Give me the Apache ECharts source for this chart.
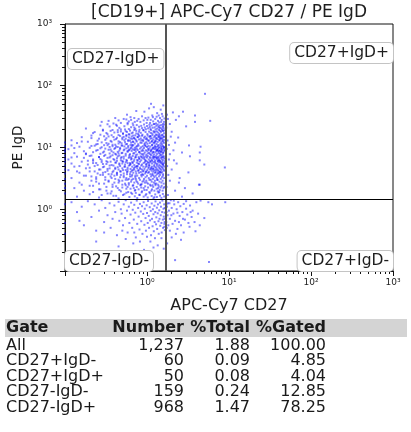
<!DOCTYPE html>
<html><head><meta charset="utf-8">
<script src="https://cdn.jsdelivr.net/npm/echarts@6.0.0/dist/echarts.min.js"></script>
<style>html,body{margin:0;padding:0;background:#fff}#c{width:411px;height:432px}</style>
</head><body><div id="c"></div>
<script>
const titleText = '[CD19+] APC-Cy7 CD27 / PE IgD';
const xName = 'APC-Cy7 CD27';
const yName = 'PE IgD';
const axisMin = 0.1, axisMax = 1000;
const xLabelValues = [1, 10, 100, 1000];
const yLabelValues = [1, 10, 100, 1000];
const majorTicks = [0.1, 1, 10, 100, 1000];
const minorTicks = [0.2,0.3,0.4,0.5,0.6,0.7,0.8,0.9,2,3,4,5,6,7,8,9,20,30,40,50,60,70,80,90,200,300,400,500,600,700,800,900];
const gateX = 1.69, gateY = 1.45;
const quadNames = ['CD27-IgD+', 'CD27+IgD+', 'CD27-IgD-', 'CD27+IgD-'];
const tableHeader = ['Gate', 'Number', '%Total', '%Gated'];
const gateNames = ['All', 'CD27+IgD-', 'CD27+IgD+', 'CD27-IgD-', 'CD27-IgD+'];
const numbers = ['1,237', '60', '50', '159', '968'];
const pctTotal = ['1.88', '0.09', '0.08', '0.24', '1.47'];
const pctGated = ['100.00', '4.85', '4.04', '12.85', '78.25'];

// CD27-IgD+ (upper-left)
const ulPoints = [
[1.21,45],[1.47,41],[0.93,38],[1.58,48],[1.33,36],[1.06,43],[0.74,39],[1.52,35],[1.12,51],[0.57,34],
[0.41,30],[0.56,28.5],[0.63,31],[0.71,26],[0.79,29],[0.87,32],[0.91,27.5],[0.99,25],[1.04,30.5],[1.11,28],[1.16,33],[1.19,26.5],[1.26,29],[1.31,31.5],[1.36,27],[1.41,25.5],[1.44,30],[1.51,28],[1.55,32],[1.61,26],[1.63,29.5],[0.34,27],[0.48,25],[0.67,24.5],[0.83,26],[0.96,30],[1.09,25],[1.18,31],[1.29,24.5],[1.39,33],[1.49,26],[1.57,24],[0.6,26.5],[1.01,28],[1.23,24],
[0.18,20.3],[0.22,17.1],[0.27,22.6],[0.29,18.8],[0.33,16.4],[0.35,21.9],[0.38,19.2],[0.42,23.4],[0.44,17.7],[0.46,20.8],[0.51,16.9],[0.53,22.1],[0.55,18.3],[0.58,23.8],[0.6,19.9],[0.61,16.2],[0.64,21.3],[0.67,17.5],[0.68,22.9],[0.72,20.1],[0.74,18.6],[0.75,23.1],[0.78,16.7],[0.8,21.7],[0.81,19.4],[0.84,17.3],[0.85,22.4],[0.87,20.6],[0.88,16.1],[0.91,18.9],[0.92,23.6],[0.94,21.1],[0.96,17.8],[0.97,19.7],[1.0,22.2],[1.01,16.5],[1.03,20.4],[1.06,18.1],[1.07,23.3],[1.08,21.5],[1.11,17.2],[1.12,19.1],[1.14,22.8],[1.16,16.8],[1.17,20.9],[1.2,18.4],[1.21,23.9],[1.22,17.6],[1.24,21.2],[1.27,19.6],[1.28,16.3],[1.3,22.5],[1.32,18.2],[1.33,20.2],[1.35,23.5],[1.37,17.4],[1.38,21.8],[1.4,19.3],[1.42,16.6],[1.43,22.7],[1.45,18.7],[1.46,20.7],[1.48,17.9],[1.5,23.2],[1.52,19.8],[1.53,16.1],[1.55,21.4],[1.57,18.5],[1.58,22.3],[1.6,20.5],[1.61,17.0],[1.63,19.0],[1.64,23.7],[0.48,19.6],[0.7,21.0],[0.9,19.2],[1.1,20.0],[1.26,18.0],[1.41,21.0],[1.54,18.9],
[0.12,13.1],[0.14,11.8],[0.16,14.7],[0.19,12.4],[0.21,15.6],[0.24,11.2],[0.26,13.9],[0.28,12.1],[0.3,15.2],[0.32,14.1],[0.34,11.5],[0.36,12.8],[0.37,15.8],[0.4,13.4],[0.41,11.1],[0.43,14.4],[0.45,12.6],[0.47,15.4],[0.49,11.7],[0.5,13.6],[0.52,14.9],[0.54,12.2],[0.56,15.9],[0.57,11.4],[0.59,13.2],[0.6,14.6],[0.62,12.9],[0.63,11.0],[0.65,15.1],[0.66,13.8],[0.68,12.3],[0.69,14.3],[0.71,11.6],[0.72,15.7],[0.74,13.0],[0.75,12.5],[0.77,14.8],[0.78,11.3],[0.8,13.5],[0.81,15.3],[0.83,12.0],[0.84,14.0],[0.86,11.9],[0.87,15.5],[0.89,13.3],[0.9,12.7],[0.92,14.5],[0.93,11.2],[0.95,15.0],[0.96,13.7],[0.98,12.2],[0.99,14.2],[1.01,11.5],[1.02,15.6],[1.04,13.1],[1.05,12.8],[1.07,14.9],[1.08,11.8],[1.1,13.9],[1.11,15.2],[1.13,12.4],[1.14,14.1],[1.16,11.1],[1.17,15.8],[1.19,13.4],[1.2,12.0],[1.22,14.6],[1.23,11.7],[1.25,15.4],[1.26,13.0],[1.28,12.6],[1.29,14.4],[1.31,11.4],[1.32,15.9],[1.34,13.6],[1.35,12.3],[1.37,14.7],[1.38,11.0],[1.4,15.1],[1.41,13.2],[1.43,12.9],[1.44,14.0],[1.46,11.6],[1.47,15.5],[1.49,13.8],[1.5,12.1],[1.52,14.3],[1.53,11.3],[1.55,15.7],[1.56,13.5],[1.58,12.5],[1.59,14.8],[1.61,11.9],[1.62,15.0],[1.64,13.3],[0.55,13.9],[0.7,14.1],[0.85,13.0],[1.0,13.5],[1.15,12.7],[1.3,13.9],[1.45,14.5],[0.64,12.0],[0.94,11.7],[1.24,12.3],[1.54,12.8],[0.79,15.9],[1.09,15.3],[1.39,15.8],
[0.11,9.4],[0.13,8.1],[0.15,10.3],[0.17,8.7],[0.18,7.8],[0.2,9.9],[0.22,8.4],[0.23,10.7],[0.25,9.1],[0.27,7.9],[0.28,10.1],[0.3,8.6],[0.31,9.6],[0.33,10.9],[0.35,8.0],[0.36,9.3],[0.38,10.5],[0.39,8.3],[0.41,9.8],[0.42,7.7],[0.44,10.2],[0.46,8.9],[0.47,9.5],[0.49,10.8],[0.5,8.2],[0.52,9.0],[0.53,10.4],[0.55,7.9],[0.56,9.7],[0.58,8.5],[0.59,10.6],[0.61,9.2],[0.62,7.8],[0.64,10.0],[0.65,8.8],[0.67,9.4],[0.68,10.9],[0.7,8.1],[0.71,9.9],[0.73,8.6],[0.74,10.3],[0.76,7.7],[0.77,9.1],[0.79,10.7],[0.8,8.4],[0.82,9.6],[0.83,8.0],[0.85,10.1],[0.86,8.8],[0.88,9.3],[0.89,10.5],[0.91,7.9],[0.92,9.8],[0.94,8.3],[0.95,10.8],[0.97,9.0],[0.98,7.6],[1.0,10.2],[1.01,8.7],[1.03,9.5],[1.04,10.6],[1.06,8.2],[1.07,9.7],[1.09,7.8],[1.1,10.4],[1.12,8.9],[1.13,9.2],[1.15,10.9],[1.16,8.0],[1.18,9.9],[1.19,8.5],[1.21,10.0],[1.22,7.7],[1.24,9.4],[1.25,10.7],[1.27,8.3],[1.28,9.6],[1.3,8.8],[1.31,10.3],[1.33,7.9],[1.34,9.1],[1.36,10.5],[1.37,8.6],[1.39,9.8],[1.4,8.1],[1.42,10.1],[1.43,9.0],[1.45,7.8],[1.46,10.8],[1.48,8.4],[1.49,9.5],[1.51,10.4],[1.52,8.9],[1.54,9.3],[1.55,7.7],[1.57,10.6],[1.58,8.2],[1.6,9.7],[1.61,10.2],[1.63,8.7],[1.64,9.1],[0.45,8.0],[0.6,9.0],[0.75,9.6],[0.9,8.9],[1.05,9.1],[1.2,8.4],[1.35,9.4],[1.5,9.9],[0.66,10.4],[0.81,8.5],[0.96,10.5],[1.11,8.6],[1.26,10.2],[1.41,8.8],[1.56,8.3],[0.72,9.3],[0.87,7.8],[1.02,8.0],[1.17,9.5],[1.32,9.0],[1.47,8.6],[1.62,10.0],
[0.11,6.4],[0.12,5.5],[0.14,7.1],[0.16,5.9],[0.17,6.8],[0.19,5.3],[0.21,7.4],[0.22,6.1],[0.24,5.6],[0.26,7.0],[0.27,6.5],[0.29,5.4],[0.3,7.3],[0.32,6.0],[0.33,5.8],[0.35,6.9],[0.37,5.2],[0.38,7.5],[0.4,6.3],[0.41,5.7],[0.43,6.7],[0.44,7.2],[0.46,5.5],[0.48,6.2],[0.49,7.0],[0.51,5.9],[0.52,6.6],[0.54,5.3],[0.55,7.4],[0.57,6.1],[0.58,5.6],[0.6,6.8],[0.61,7.1],[0.63,5.4],[0.64,6.4],[0.66,5.8],[0.67,7.3],[0.69,6.0],[0.7,5.2],[0.72,6.9],[0.73,7.5],[0.75,5.7],[0.76,6.3],[0.78,5.5],[0.79,7.0],[0.81,6.6],[0.82,5.9],[0.84,7.2],[0.85,6.2],[0.87,5.3],[0.88,6.7],[0.9,7.4],[0.91,5.6],[0.93,6.5],[0.94,5.8],[0.96,7.1],[0.97,6.1],[0.99,5.4],[1.0,6.9],[1.02,7.3],[1.03,5.7],[1.05,6.4],[1.06,5.2],[1.08,7.0],[1.09,6.0],[1.11,5.9],[1.12,7.5],[1.14,6.3],[1.15,5.5],[1.17,6.8],[1.18,7.2],[1.2,5.8],[1.21,6.6],[1.23,5.3],[1.24,7.1],[1.26,6.2],[1.27,5.6],[1.29,6.9],[1.3,7.4],[1.32,5.4],[1.33,6.5],[1.35,6.0],[1.36,7.0],[1.38,5.7],[1.39,6.7],[1.41,5.2],[1.42,7.3],[1.44,6.1],[1.45,5.9],[1.47,6.8],[1.48,7.5],[1.5,5.5],[1.51,6.4],[1.53,5.8],[1.54,7.1],[1.56,6.2],[1.57,5.3],[1.59,6.9],[1.6,7.2],[1.62,5.6],[1.63,6.6],[1.65,6.0],[0.5,6.0],[0.65,6.6],[0.8,5.4],[0.95,6.2],[1.1,6.7],[1.25,5.9],[1.4,6.3],[1.55,5.4],[0.7,6.4],[0.86,7.0],[1.01,5.9],[1.16,6.1],[1.31,6.8],[1.46,5.7],[0.92,6.9],[1.07,5.6],[1.22,7.0],[1.37,6.1],[1.52,6.9],[0.62,5.6],[0.77,6.1],[0.97,5.3],
[0.11,4.3],[0.13,4.9],[0.15,3.9],[0.18,4.6],[0.2,4.1],[0.23,5.0],[0.25,3.8],[0.27,4.4],[0.29,4.8],[0.31,4.0],[0.33,4.5],[0.35,5.1],[0.37,3.7],[0.39,4.2],[0.41,4.7],[0.43,3.9],[0.45,4.4],[0.47,5.0],[0.48,4.1],[0.5,4.6],[0.52,3.8],[0.53,4.9],[0.55,4.3],[0.57,4.0],[0.58,4.7],[0.6,5.1],[0.62,3.7],[0.63,4.5],[0.65,4.2],[0.66,4.9],[0.68,3.9],[0.7,4.4],[0.71,4.8],[0.73,4.1],[0.74,3.8],[0.76,4.6],[0.77,5.0],[0.79,4.3],[0.8,3.9],[0.82,4.7],[0.84,4.0],[0.85,5.1],[0.87,4.4],[0.88,3.7],[0.9,4.9],[0.91,4.2],[0.93,4.5],[0.95,3.8],[0.96,4.8],[0.98,4.1],[0.99,5.0],[1.01,4.3],[1.03,3.9],[1.04,4.6],[1.06,4.0],[1.07,5.1],[1.09,4.4],[1.1,3.7],[1.12,4.7],[1.14,4.2],[1.15,4.9],[1.17,3.8],[1.18,4.5],[1.2,4.1],[1.22,5.0],[1.23,4.3],[1.25,3.9],[1.27,4.8],[1.28,4.0],[1.3,4.6],[1.32,5.1],[1.33,3.7],[1.35,4.4],[1.37,4.2],[1.38,4.9],[1.4,3.8],[1.42,4.7],[1.43,4.1],[1.45,4.5],[1.47,5.0],[1.48,3.9],[1.5,4.3],[1.52,4.8],[1.53,4.0],[1.55,4.6],[1.57,3.7],[1.58,5.1],[1.6,4.4],[1.62,4.2],[1.63,4.9],[0.67,4.3],[0.83,4.5],[0.97,4.0],[1.13,4.5],[1.29,4.3],[1.44,4.0],[0.58,4.1],[0.74,4.9],[0.89,4.1],[1.05,4.8],[1.2,4.6],[1.36,3.9],
[0.12,3.2],[0.15,2.7],[0.18,3.5],[0.21,2.9],[0.24,3.3],[0.26,2.6],[0.29,3.6],[0.31,3.0],[0.34,2.8],[0.36,3.4],[0.38,2.5],[0.41,3.1],[0.43,3.6],[0.45,2.7],[0.47,3.3],[0.5,2.9],[0.52,3.5],[0.54,2.6],[0.56,3.2],[0.58,3.0],[0.6,2.5],[0.62,3.4],[0.64,2.8],[0.66,3.6],[0.68,3.1],[0.7,2.7],[0.72,3.3],[0.74,2.9],[0.76,3.5],[0.78,2.6],[0.8,3.2],[0.82,3.0],[0.84,2.5],[0.86,3.4],[0.88,2.8],[0.9,3.6],[0.92,3.1],[0.94,2.7],[0.96,3.3],[0.98,2.9],[1.0,3.5],[1.03,2.6],[1.05,3.2],[1.07,3.0],[1.09,2.5],[1.12,3.4],[1.14,2.8],[1.16,3.6],[1.18,3.1],[1.21,2.7],[1.23,3.3],[1.25,2.9],[1.28,3.5],[1.3,2.6],[1.32,3.2],[1.35,3.0],[1.37,2.5],[1.4,3.4],[1.42,2.8],[1.45,3.6],[1.47,3.1],[1.5,2.7],[1.52,3.3],[1.55,2.9],[1.57,3.5],[1.6,2.6],[1.62,3.2],[0.73,3.1],[0.91,2.9],[1.11,3.0],[1.33,3.0],[0.55,3.0],[0.99,2.7],[1.2,3.5],[0.65,3.0],[0.85,3.6],[1.26,2.6],
[0.13,2.2],[0.17,2.0],[0.22,2.4],[0.27,2.1],[0.32,2.3],[0.37,1.95],[0.42,2.35],[0.46,2.05],[0.5,2.25],[0.55,2.45],[0.59,1.9],[0.63,2.15],[0.67,2.4],[0.71,2.0],[0.75,2.3],[0.79,2.1],[0.83,2.45],[0.87,1.95],[0.91,2.2],[0.95,2.35],[0.99,2.05],[1.03,2.25],[1.07,1.9],[1.11,2.4],[1.15,2.1],[1.19,2.3],[1.23,2.0],[1.27,2.45],[1.31,2.15],[1.35,1.95],[1.39,2.35],[1.43,2.05],[1.47,2.25],[1.51,2.4],[1.55,2.0],[1.59,2.2],[1.63,2.3],[0.69,2.2],[0.93,2.05],[1.17,2.45],[1.41,1.9],[0.58,2.3],[0.85,2.25],[1.13,2.0],[1.37,2.2],
[0.14,1.6],[0.2,1.75],[0.26,1.55],[0.33,1.8],[0.39,1.65],[0.45,1.5],[0.51,1.7],[0.56,1.85],[0.61,1.58],[0.66,1.78],[0.71,1.62],[0.76,1.52],[0.81,1.72],[0.86,1.88],[0.91,1.6],[0.96,1.68],[1.02,1.55],[1.08,1.82],[1.14,1.64],[1.2,1.5],[1.26,1.74],[1.32,1.58],[1.38,1.86],[1.44,1.66],[1.5,1.53],[1.56,1.77],[1.62,1.61],[0.73,1.84],[0.98,1.76],[1.23,1.57],
[0.28,26],[0.39,24.5],[0.45,27.5],[0.52,29],[0.58,25],[0.64,28],[0.7,30],[0.76,27],[0.43,22.5],[0.33,23.8],
[0.21,14.2],[0.23,17.8],[0.25,12.9],[0.27,16.1],[0.29,19.4],[0.31,13.3],[0.32,17.2],[0.34,15.1],[0.36,18.6],[0.37,12.4],[0.39,14.8],[0.4,17.5],[0.42,13.7],[0.44,19.1],[0.45,15.9],[0.47,12.2],[0.48,18.2],[0.5,14.4],[0.51,16.7],[0.53,13.1],[0.54,19.6],[0.56,15.3],[0.57,17.9],[0.59,12.7],[0.6,16.4],[0.62,18.8],[0.63,14.0],[0.65,17.0],[0.67,12.5],[0.68,15.6],[0.7,19.2],[0.72,13.6],[0.74,16.9],[0.77,14.7],[0.8,18.1],
[0.2,7.3],[0.21,10.6],[0.22,6.4],[0.24,8.9],[0.25,11.4],[0.26,7.0],[0.27,9.7],[0.28,6.2],[0.29,8.3],[0.3,10.9],[0.31,7.6],[0.32,11.8],[0.33,6.8],[0.34,9.2],[0.35,10.2],[0.36,7.2],[0.37,8.7],[0.38,11.1],[0.39,6.5],[0.4,9.5],[0.41,7.9],[0.42,10.4],[0.43,6.1],[0.44,8.5],[0.45,11.6],[0.46,7.4],[0.47,9.9],[0.48,6.7],[0.49,8.1],[0.5,10.7],[0.52,7.1],[0.53,9.3],[0.55,11.3],[0.56,6.3],[0.58,8.8],[0.59,10.0],[0.61,7.5],[0.63,9.6],[0.64,6.9],[0.66,11.0],[0.68,8.0],[0.7,9.1],[0.73,7.0],[0.76,10.6],[0.8,6.6],
[0.2,4.7],[0.21,3.4],[0.22,5.6],[0.23,4.1],[0.24,3.1],[0.25,5.2],[0.26,4.4],[0.27,3.6],[0.28,5.8],[0.29,3.9],[0.3,4.9],[0.31,3.3],[0.32,5.4],[0.33,4.2],[0.34,3.7],[0.35,4.6],[0.36,5.9],[0.37,3.2],[0.38,4.0],[0.39,5.1],[0.4,3.5],[0.41,4.5],[0.42,5.7],[0.43,3.8],[0.44,4.8],[0.45,3.0],[0.46,5.3],[0.47,4.1],[0.48,3.6],[0.5,5.5],[0.51,4.3],[0.52,3.3],[0.54,4.9],[0.55,5.8],[0.57,3.7],[0.58,4.4],[0.6,3.1],[0.62,5.2],[0.63,4.0],[0.65,3.4],[0.67,5.6],[0.69,4.6],[0.72,3.5],[0.75,5.0],[0.78,4.2],
[0.2,2.4],[0.22,1.9],[0.24,2.8],[0.26,2.1],[0.28,1.7],[0.3,2.6],[0.32,2.0],[0.34,2.9],[0.36,1.8],[0.38,2.3],[0.4,2.7],[0.42,1.65],[0.44,2.2],[0.46,2.85],[0.48,1.95],[0.5,2.5],[0.53,1.75],[0.56,2.15],[0.6,2.65],[0.64,1.85],[0.68,2.45],[0.72,2.05],[0.76,2.75],[0.81,1.7],[0.86,2.55],
[0.12,6.9],[0.13,9.8],[0.15,5.0],[0.16,12.5],[0.17,3.5],[0.18,8.0],[0.19,6.1],[0.14,4.1],[0.12,10.8],[0.16,2.5],
[0.1,12],[0.1,10.5],[0.1,9.2],[0.1,8.5],[0.1,7.4],[0.1,6.6],[0.1,5.9],[0.1,5.1],[0.1,4.4],[0.1,3.8],[0.1,3.1],[0.1,2.6],[0.1,2.2],[0.1,1.8]
];
// CD27+IgD+ (upper-right)
const urPoints = [
[5.1,74],[2.07,37],[2.45,32],[2.75,38],[3.85,33],[5.9,27],[3.85,26],[2.0,18],[3.25,10.8],[2.67,8.3],[4.4,8.3],[2.13,6.2],[3.34,7.2],[8.9,4.75],[3.2,3.95],[2.45,2.7],[4.4,2.5],[2.67,1.6],[4.5,10.3],[4.4,6.2],[5.0,5.3],[4.3,2.5],[1.85,6.4],
[1.75,34],[1.8,29],[1.9,24],[1.72,21],[1.95,15],[1.78,13],[2.2,12],[1.85,11],[1.74,9.5],[2.1,9],[1.9,7.8],[2.3,5.5],[1.76,5],[2.0,4.4],[1.82,3.6],[2.5,3.2],[1.9,2.9],[1.73,2.3],[2.2,2.0],[1.8,1.7],[2.9,2.2],[3.6,1.8],[2.4,14.5],[3.0,22],[2.25,28]
];
// CD27-IgD- (lower-left)
const llPoints = [
[0.12,1.3],[0.14,0.9],[0.16,1.1],[0.17,0.55],[0.19,1.35],[0.21,0.75],[0.23,1.2],[0.24,0.45],[0.26,0.95],[0.28,1.4],[0.3,0.62],[0.31,1.05],[0.33,0.8],[0.35,1.25],[0.36,0.5],[0.38,0.7],[0.4,1.15],[0.41,0.9],[0.43,0.38],[0.45,1.32],[0.46,0.65],[0.48,1.0],[0.49,0.85],[0.51,0.55],[0.52,1.2],[0.54,0.72],[0.55,1.4],[0.57,0.95],[0.58,0.42],[0.6,1.1],[0.61,0.6],[0.63,0.82],[0.64,1.28],[0.66,0.5],[0.67,0.98],[0.69,0.68],[0.7,1.18],[0.72,0.88],[0.73,0.35],[0.75,1.38],[0.76,0.58],[0.78,1.05],[0.79,0.76],[0.81,0.47],[0.82,1.22],[0.84,0.92],[0.85,0.64],[0.87,1.12],[0.88,0.4],[0.9,0.84],[0.91,1.3],[0.93,0.56],[0.94,1.02],[0.96,0.72],[0.97,0.45],[0.99,1.16],[1.0,0.87],[1.02,0.6],[1.03,1.36],[1.05,0.78],[1.06,0.5],[1.08,1.08],[1.09,0.66],[1.11,0.94],[1.12,0.38],[1.14,1.24],[1.15,0.7],[1.17,0.53],[1.18,1.0],[1.2,0.83],[1.21,0.44],[1.23,1.14],[1.24,0.62],[1.26,0.9],[1.27,1.34],[1.29,0.57],[1.3,0.74],[1.32,1.06],[1.33,0.48],[1.35,0.86],[1.36,1.2],[1.38,0.64],[1.39,0.4],[1.41,0.96],[1.42,0.7],[1.44,1.28],[1.45,0.54],[1.47,0.8],[1.48,1.1],[1.5,0.6],[1.51,0.42],[1.53,0.9],[1.54,1.38],[1.56,0.68],[1.57,0.5],[1.59,1.02],[1.6,0.76],[1.62,1.2],[1.63,0.58],[1.64,0.88],[1.65,0.46],[1.64,0.7],[1.65,1.05],[1.63,0.52],[1.64,0.62],[1.6,0.23],
[0.24,0.3],[0.45,0.25],[0.68,0.28],[0.92,0.22],[1.1,0.3],[1.35,0.26],[0.55,0.33],[0.82,0.3],[1.2,0.24],[0.15,0.65],[0.3,0.42],[0.5,0.45],[0.7,0.42],[1.0,0.36],[1.25,0.34],[1.5,0.34],
[0.1,1.2],[0.1,0.85],[0.1,0.6],[0.1,0.4]
];
// CD27+IgD- (lower-right)
const lrPoints = [
[1.72,1.35],[1.75,1.1],[1.78,0.8],[1.72,0.62],[1.74,0.5],[1.8,1.25],[1.85,0.95],[1.9,0.7],[1.95,1.4],[2.0,1.05],[2.05,0.58],[2.1,0.85],[2.15,1.2],[2.2,0.65],[2.3,1.0],[2.35,0.48],[2.4,1.3],[2.5,0.78],[2.55,1.12],[2.6,0.55],[2.7,0.9],[2.8,1.22],[2.9,0.68],[3.0,1.02],[3.1,0.82],[3.2,0.6],[3.35,1.15],[3.5,0.75],[3.6,0.95],[3.8,0.62],[4.0,1.3],[4.2,0.85],[4.5,1.38],[5.0,0.72],[5.6,1.3],[6.2,1.2],[2.25,0.4],[2.8,0.42],[3.3,0.52],[1.9,0.45],[2.0,0.35],[2.6,0.32],[3.9,0.44],[1.76,0.28],[2.2,0.15],[5.7,0.14],[1.73,0.9],[1.71,0.75],[1.73,1.2],[1.82,0.55],[2.45,0.62],[1.98,0.8],[3.0,1.35],[4.4,0.55],[1.88,1.25],[2.12,1.38],[2.75,0.7],[3.4,0.9],[2.35,0.88],[9.0,1.3]
];

const FONT = '"DejaVu Sans", Verdana, sans-serif';
const sup = {'-1':'⁻¹','0':'⁰','1':'¹','2':'²','3':'³'};
const fmtPow = v => '10' + sup[String(Math.round(Math.log10(v)))];

const plot = {left: 65, top: 24, width: 328, height: 247};

const graphics = [];
const boxStyle = {font: '15.5px ' + FONT, fill: '#1e1e1e', backgroundColor: '#fff', borderColor: '#c4c4c4', borderWidth: 1, borderRadius: 4, padding: [2, 4]};
const quadPos = [
  {x: 68, y: 49, a: 'left', v: 'top'},
  {x: 393, y: 43, a: 'right', v: 'top'},
  {x: 65, y: 271, a: 'left', v: 'bottom'},
  {x: 393, y: 271, a: 'right', v: 'bottom'}
];
quadNames.forEach((t, i) => {
  const p = quadPos[i];
  graphics.push({type: 'text', x: p.x, y: p.y, z: 100, style: Object.assign({text: t, align: p.a, textAlign: p.a, verticalAlign: p.v, textVerticalAlign: p.v}, boxStyle)});
});
graphics.push({type: 'rect', shape: {x: 5, y: 319, width: 402, height: 18}, style: {fill: '#d4d4d4'}, z: 1});
const colX = [6, 184, 250, 326];
const colAlign = ['left', 'right', 'right', 'right'];
const headerY = 328;
tableHeader.forEach((t, j) => {
  graphics.push({type: 'text', x: colX[j], y: headerY, z: 10, style: {text: t, font: 'bold 16px ' + FONT, fill: '#1a1a1a', align: colAlign[j], textAlign: colAlign[j], verticalAlign: 'middle', textVerticalAlign: 'middle'}});
});
const cols = [gateNames, numbers, pctTotal, pctGated];
gateNames.forEach((g, i) => {
  const y = 345.5 + i * 15.6;
  cols.forEach((col, j) => {
    graphics.push({type: 'text', x: colX[j], y: y, z: 10, style: {text: col[i], font: '16px ' + FONT, fill: '#1a1a1a', align: colAlign[j], textAlign: colAlign[j], verticalAlign: 'middle', textVerticalAlign: 'middle'}});
  });
});

const axisColor = '#111';
function mainAxis(dim) {
  return {
    type: 'log', logBase: 10, min: axisMin, max: axisMax,
    position: dim === 'x' ? 'bottom' : 'left',
    name: dim === 'x' ? xName : yName,
    nameLocation: 'middle',
    nameGap: dim === 'x' ? 27 : 40,
    nameTextStyle: dim === 'x' ? {fontFamily: FONT, fontSize: 16, color: '#1e1e1e'} : {fontFamily: FONT, fontSize: 13.5, color: '#1e1e1e'},
    axisLine: {show: true, lineStyle: {color: axisColor, width: 1}},
    axisTick: {show: true, length: 5, customValues: majorTicks, lineStyle: {color: axisColor}},
    axisLabel: {show: true, customValues: dim === 'x' ? xLabelValues : yLabelValues, formatter: fmtPow, fontFamily: FONT, fontSize: 9, color: '#222', margin: dim === 'x' ? 7 : 13},
    splitLine: {show: false}, minorTick: {show: false}, minorSplitLine: {show: false}
  };
}
function minorAxis(dim) {
  return {
    type: 'log', logBase: 10, min: axisMin, max: axisMax,
    position: dim === 'x' ? 'top' : 'right',
    offset: dim === 'x' ? -plot.height : -plot.width,
    axisLine: {show: false},
    axisTick: {show: true, inside: true, length: 3, customValues: minorTicks, lineStyle: {color: axisColor}},
    axisLabel: {show: false},
    splitLine: {show: false}
  };
}

const chart = echarts.init(document.getElementById('c'), null, {renderer: 'canvas'});
chart.setOption({
  animation: false,
  backgroundColor: '#fff',
  title: {text: titleText, left: 229, top: 4, textAlign: 'center', padding: 0, textStyle: {fontFamily: FONT, fontSize: 17, fontWeight: 'normal', color: '#1e1e1e'}},
  grid: Object.assign({show: true, borderColor: axisColor, borderWidth: 1, backgroundColor: '#fff', outerBoundsMode: 'none', containLabel: false}, plot),
  xAxis: [mainAxis('x'), minorAxis('x')],
  yAxis: [mainAxis('y'), minorAxis('y')],
  series: [{
    type: 'scatter',
    xAxisIndex: 0, yAxisIndex: 0,
    symbol: 'rect', symbolSize: [2, 2],
    itemStyle: {color: 'rgba(0,0,255,0.6)'},
    silent: true,
    data: [].concat(ulPoints, urPoints, llPoints, lrPoints),
    markLine: {
      silent: true, symbol: 'none', animation: false, label: {show: false},
      data: [
        {xAxis: gateX, lineStyle: {color: '#555', width: 2, type: 'solid'}},
        {yAxis: gateY, lineStyle: {color: '#000', width: 1, type: 'solid'}}
      ]
    }
  }],
  graphic: {elements: graphics}
});
</script>
</body></html>
